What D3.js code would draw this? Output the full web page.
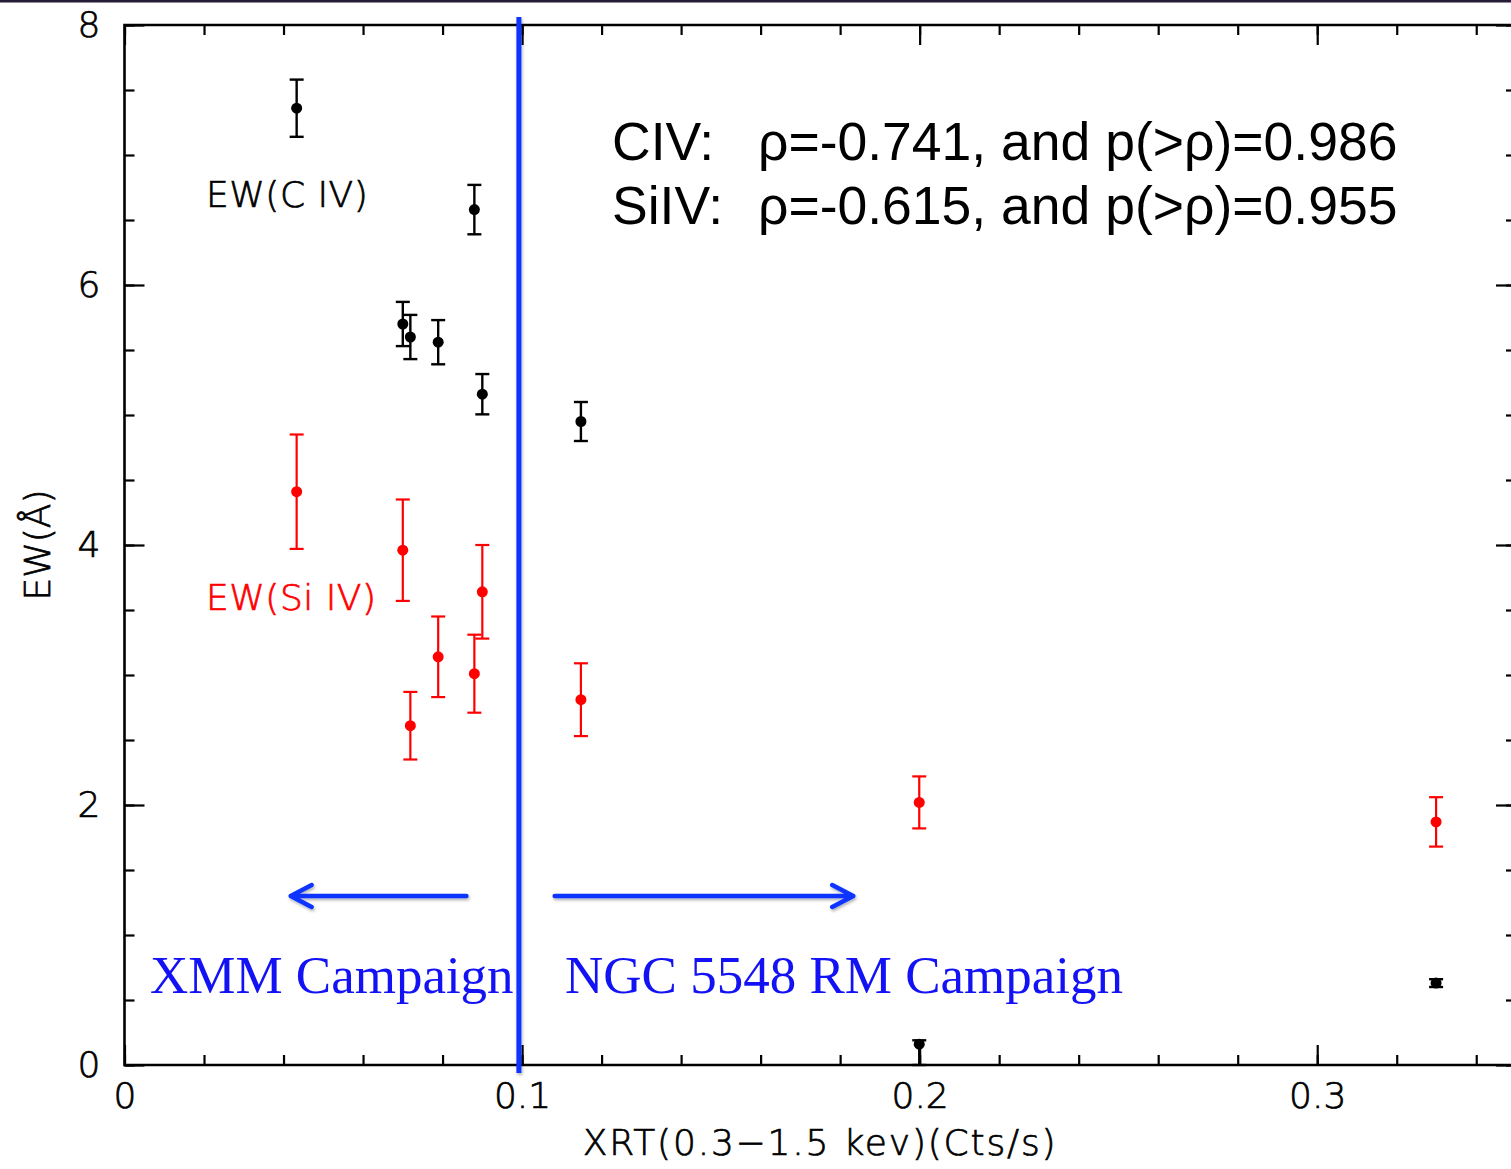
<!DOCTYPE html>
<html>
<head>
<meta charset="utf-8">
<script src="https://cdn.jsdelivr.net/npm/d3@7"></script>
<style>
  html, body { margin: 0; padding: 0; background: #fff; overflow: hidden; }
  svg { display: block; }
  .thin { font-family: "DejaVu Sans", sans-serif; font-weight: 200; stroke-width: 0.7px; paint-order: stroke; }
</style>
</head>
<body>
<script>
// ---------------- data ----------------
const xrt      = [0.0433, 0.0700, 0.0719, 0.0789, 0.0880, 0.0900, 0.1148, 0.1999, 0.3299];
const civ      = [7.36, 5.70, 5.60, 5.56, 6.58, 5.16, 4.95, 0.16, 0.63];
const civErrLo = [0.22, 0.17, 0.17, 0.17, 0.19, 0.155, 0.15, 0.16, 0.03];
const civErrHi = [0.22, 0.17, 0.17, 0.17, 0.19, 0.155, 0.15, 0.03, 0.03];
const siiv     = [4.41, 3.96, 2.61, 3.14, 3.01, 3.64, 2.81, 2.02, 1.87];
const siivErr  = [0.44, 0.39, 0.26, 0.31, 0.30, 0.36, 0.28, 0.20, 0.19];

const xMajorTicks = [0, 0.1, 0.2, 0.3];
const xTickLabels = ["0", "0.1", "0.2", "0.3"];
const xMinorTicks = d3.range(0, 0.351, 0.02);
const yMajorTicks = [0, 2, 4, 6, 8];
const yTickLabels = ["0", "2", "4", "6", "8"];
const yMinorTicks = d3.range(0, 8.01, 0.5);

const divider = 0.0992;
const arrowLevel = 1.3;
const arrowLeft  = [0.0860, 0.0418];   // from, to (tip)
const arrowRight = [0.1082, 0.1833];
const campaignLabels = ["XMM Campaign", "NGC 5548 RM Campaign"];
const statLabels = ["CIV:", "SiIV:"];
const statValues = ["ρ=-0.741, and p(>ρ)=0.986", "ρ=-0.615, and p(>ρ)=0.955"];

// ---------------- layout ----------------
const W = 1511, H = 1169;
const x = d3.scaleLinear().domain([0, 0.35]).range([124.5, 1516]);
const y = d3.scaleLinear().domain([0, 8]).range([1065, 25]);

const svg = d3.select("body").append("svg").attr("width", W).attr("height", H);

const defs = svg.append("defs");
const f = defs.append("filter").attr("id", "shadow").attr("filterUnits", "userSpaceOnUse")
  .attr("x", 0).attr("y", 0).attr("width", W).attr("height", H);
f.append("feDropShadow").attr("dx", 1).attr("dy", 2).attr("stdDeviation", 1.5).attr("flood-color", "#000").attr("flood-opacity", 0.3);

// top dark band
svg.append("rect").attr("x", 0).attr("y", 0).attr("width", W).attr("height", 2.5).attr("fill", "#261b36");

function styleAxis(g) {
  g.select(".domain").remove();
  g.selectAll("line").attr("stroke", "#000").attr("stroke-width", 2.2);
}

// minor ticks
svg.append("g").attr("transform", `translate(0,${y(0)})`)
  .call(d3.axisBottom(x).tickValues(xMinorTicks).tickSizeInner(-10).tickSizeOuter(0).tickFormat(""))
  .call(styleAxis);
svg.append("g").attr("transform", `translate(0,${y(8)})`)
  .call(d3.axisTop(x).tickValues(xMinorTicks).tickSizeInner(-10).tickSizeOuter(0).tickFormat(""))
  .call(styleAxis);
svg.append("g").attr("transform", `translate(${x(0)},0)`)
  .call(d3.axisLeft(y).tickValues(yMinorTicks).tickSizeInner(-10).tickSizeOuter(0).tickFormat(""))
  .call(styleAxis);
svg.append("g").attr("transform", `translate(${x(0.35)},0)`)
  .call(d3.axisRight(y).tickValues(yMinorTicks).tickSizeInner(-10).tickSizeOuter(0).tickFormat(""))
  .call(styleAxis);

// major ticks with labels
const xb = svg.append("g").attr("transform", `translate(0,${y(0)})`)
  .call(d3.axisBottom(x).tickValues(xMajorTicks).tickSizeInner(-20).tickSizeOuter(0).tickPadding(17)
    .tickFormat((d, i) => xTickLabels[i]))
  .call(styleAxis);
svg.append("g").attr("transform", `translate(0,${y(8)})`)
  .call(d3.axisTop(x).tickValues(xMajorTicks).tickSizeInner(-20).tickSizeOuter(0).tickFormat(""))
  .call(styleAxis);
const yl = svg.append("g").attr("transform", `translate(${x(0)},0)`)
  .call(d3.axisLeft(y).tickValues(yMajorTicks).tickSizeInner(-20).tickSizeOuter(0).tickPadding(24)
    .tickFormat((d, i) => yTickLabels[i]))
  .call(styleAxis);
svg.append("g").attr("transform", `translate(${x(0.35)},0)`)
  .call(d3.axisRight(y).tickValues(yMajorTicks).tickSizeInner(-20).tickSizeOuter(0).tickFormat(""))
  .call(styleAxis);

[xb, yl].forEach(g => g.selectAll("text")
  .attr("class", "thin").attr("font-size", 36).attr("fill", "#000").attr("stroke", "#000"));

// frame
svg.append("path")
  .attr("d", `M${x(0)},${y(0)} L${x(0.35)},${y(0)} L${x(0.35)},${y(8)} L${x(0)},${y(8)} Z`)
  .attr("fill", "none").attr("stroke", "#000").attr("stroke-width", 2.6);

// axis titles
svg.append("text").attr("class", "thin")
  .attr("x", 820).attr("y", 1155).attr("text-anchor", "middle")
  .attr("font-size", 36).attr("letter-spacing", 1.8).attr("fill", "#000").attr("stroke", "#000")
  .text("XRT(0.3\u22121.5 kev)(Cts/s)");
svg.append("text").attr("class", "thin")
  .attr("transform", `translate(50,${y(4)}) rotate(-90)`)
  .attr("text-anchor", "middle").attr("font-size", 36).attr("fill", "#000").attr("stroke", "#000")
  .text("EW(Å)");

// error-bar series
function series(vals, lo, hi, color, sw) {
  const g = svg.append("g");
  const cap = 7;
  const pts = xrt.map((xv, i) => ({ xv, v: vals[i], lo: lo[i], hi: hi[i] }));
  g.selectAll("line.eb").data(pts).join("line").attr("class", "eb")
    .attr("x1", d => x(d.xv)).attr("x2", d => x(d.xv))
    .attr("y1", d => y(d.v - d.lo)).attr("y2", d => y(d.v + d.hi))
    .attr("stroke", color).attr("stroke-width", sw);
  g.selectAll("line.ct").data(pts).join("line").attr("class", "ct")
    .attr("x1", d => x(d.xv) - cap).attr("x2", d => x(d.xv) + cap)
    .attr("y1", d => y(d.v + d.hi)).attr("y2", d => y(d.v + d.hi))
    .attr("stroke", color).attr("stroke-width", sw);
  g.selectAll("line.cb").data(pts).join("line").attr("class", "cb")
    .attr("x1", d => x(d.xv) - cap).attr("x2", d => x(d.xv) + cap)
    .attr("y1", d => y(d.v - d.lo)).attr("y2", d => y(d.v - d.lo))
    .attr("stroke", color).attr("stroke-width", sw);
  g.selectAll("circle").data(pts).join("circle")
    .attr("cx", d => x(d.xv)).attr("cy", d => y(d.v)).attr("r", 5.5)
    .attr("fill", color);
}
series(siiv, siivErr, siivErr, "#ff0000", 2.2);
series(civ, civErrLo, civErrHi, "#000000", 2.4);

// series labels
svg.append("text").attr("class", "thin").attr("x", 206).attr("y", 207)
  .attr("font-size", 36).attr("fill", "#000").attr("stroke", "#000")
  .attr("letter-spacing", 0.5).text("EW(C IV)");
svg.append("text").attr("class", "thin").attr("x", 206).attr("y", 610)
  .attr("font-size", 36).attr("fill", "#ff0000").attr("stroke", "#ff0000")
  .attr("letter-spacing", 0.5).text("EW(Si IV)");

// statistics text
statLabels.forEach((s, i) => {
  svg.append("text").attr("x", 612).attr("y", 160 + i * 64)
    .attr("font-family", "Liberation Sans, Arial, sans-serif").attr("font-size", 53.5).attr("fill", "#000").text(s);
  svg.append("text").attr("x", 758).attr("y", 160 + i * 64)
    .attr("font-family", "Liberation Sans, Arial, sans-serif").attr("font-size", 53.5).attr("fill", "#000").text(statValues[i]);
});

// divider line
const blue = "#0f36ff";
svg.append("line")
  .attr("x1", x(divider)).attr("x2", x(divider))
  .attr("y1", y(8) - 8).attr("y2", y(0) + 8)
  .attr("stroke", blue).attr("stroke-width", 5).attr("filter", "url(#shadow)");

// arrows
function arrow(from, to) {
  const dir = Math.sign(to - from);
  const tx = x(to), ty = y(arrowLevel);
  const p = `M${x(from)},${ty} L${tx},${ty} M${tx - dir * 21},${ty - 11} L${tx},${ty} L${tx - dir * 21},${ty + 11}`;
  svg.append("path").attr("d", p).attr("fill", "none")
    .attr("stroke", blue).attr("stroke-width", 4.5)
    .attr("stroke-linecap", "round").attr("stroke-linejoin", "round")
    .attr("filter", "url(#shadow)");
}
arrow(arrowLeft[0], arrowLeft[1]);
arrow(arrowRight[0], arrowRight[1]);

// campaign labels
svg.append("text").attr("x", 150).attr("y", 993)
  .attr("font-family", "Liberation Serif, Times New Roman, serif").attr("font-size", 53)
  .attr("fill", "#1212f5").text(campaignLabels[0]);
svg.append("text").attr("x", 565).attr("y", 993)
  .attr("font-family", "Liberation Serif, Times New Roman, serif").attr("font-size", 53)
  .attr("fill", "#1212f5").text(campaignLabels[1]);
</script>
</body>
</html>
